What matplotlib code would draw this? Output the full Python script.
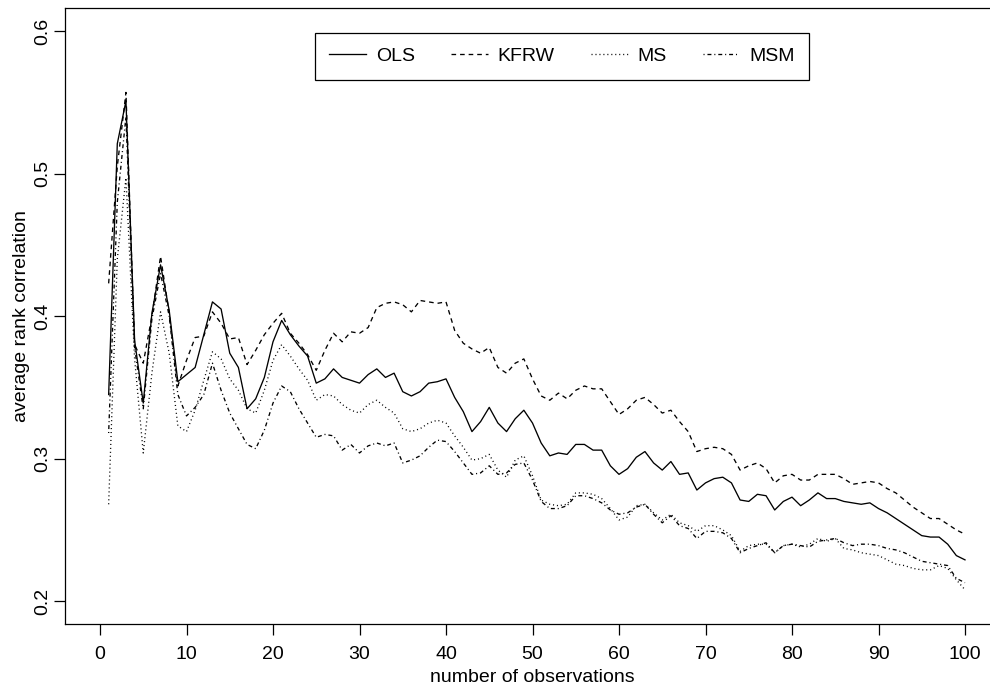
import numpy as np
import matplotlib
matplotlib.use('Agg')
import matplotlib.pyplot as plt

plt.rcParams['font.family'] = ['Liberation Sans', 'DejaVu Sans']

# average rank correlation per number of observations (1..100)
n_obs = np.arange(1, 101)

ols = [0.345, 0.521, 0.551, 0.383, 0.339, 0.402, 0.436, 0.404, 0.354, 0.359,
       0.364, 0.387, 0.410, 0.405, 0.374, 0.364, 0.335, 0.342, 0.357, 0.382,
       0.397, 0.387, 0.379, 0.372, 0.353, 0.356, 0.363, 0.357, 0.355, 0.353,
       0.359, 0.363, 0.357, 0.360, 0.347, 0.344, 0.347, 0.353, 0.354, 0.356,
       0.343, 0.333, 0.319, 0.326, 0.336, 0.325, 0.319, 0.328, 0.334, 0.325,
       0.311, 0.302, 0.304, 0.303, 0.310, 0.310, 0.306, 0.306, 0.295, 0.289,
       0.293, 0.301, 0.305, 0.297, 0.292, 0.298, 0.289, 0.290, 0.278, 0.283,
       0.286, 0.287, 0.283, 0.271, 0.270, 0.275, 0.274, 0.264, 0.270, 0.273,
       0.267, 0.271, 0.276, 0.272, 0.272, 0.270, 0.269, 0.268, 0.269, 0.265,
       0.262, 0.258, 0.254, 0.250, 0.246, 0.245, 0.245, 0.240, 0.232, 0.229]

kfrw = [0.423, 0.505, 0.557, 0.380, 0.367, 0.400, 0.442, 0.402, 0.351, 0.369,
        0.385, 0.386, 0.403, 0.395, 0.384, 0.385, 0.366, 0.376, 0.387, 0.395,
        0.402, 0.388, 0.381, 0.373, 0.362, 0.376, 0.388, 0.382, 0.389, 0.388,
        0.392, 0.406, 0.409, 0.410, 0.408, 0.403, 0.411, 0.410, 0.409, 0.410,
        0.390, 0.381, 0.377, 0.374, 0.378, 0.364, 0.360, 0.367, 0.370, 0.356,
        0.344, 0.341, 0.346, 0.342, 0.348, 0.351, 0.349, 0.349, 0.340, 0.331,
        0.335, 0.341, 0.343, 0.338, 0.332, 0.334, 0.326, 0.319, 0.305, 0.307,
        0.308, 0.307, 0.303, 0.292, 0.295, 0.297, 0.293, 0.283, 0.288, 0.289,
        0.285, 0.285, 0.289, 0.289, 0.289, 0.286, 0.282, 0.283, 0.284, 0.283,
        0.279, 0.276, 0.271, 0.266, 0.262, 0.258, 0.258, 0.254, 0.250, 0.247]

ms = [0.268, 0.440, 0.497, 0.370, 0.304, 0.360, 0.403, 0.374, 0.323, 0.319,
      0.334, 0.355, 0.375, 0.370, 0.356, 0.348, 0.335, 0.332, 0.348, 0.369,
      0.380, 0.372, 0.363, 0.355, 0.341, 0.345, 0.344, 0.338, 0.334, 0.332,
      0.338, 0.341, 0.336, 0.332, 0.321, 0.319, 0.321, 0.325, 0.327, 0.325,
      0.316, 0.308, 0.299, 0.300, 0.303, 0.292, 0.287, 0.299, 0.302, 0.288,
      0.271, 0.268, 0.267, 0.268, 0.276, 0.276, 0.275, 0.272, 0.265, 0.257,
      0.259, 0.267, 0.268, 0.262, 0.257, 0.261, 0.255, 0.253, 0.249, 0.253,
      0.253, 0.250, 0.246, 0.235, 0.239, 0.240, 0.240, 0.234, 0.239, 0.240,
      0.238, 0.240, 0.244, 0.242, 0.244, 0.237, 0.236, 0.234, 0.233, 0.232,
      0.229, 0.226, 0.225, 0.223, 0.222, 0.222, 0.225, 0.223, 0.215, 0.208]

msm = [0.318, 0.480, 0.540, 0.378, 0.335, 0.398, 0.430, 0.400, 0.345, 0.330,
       0.336, 0.345, 0.367, 0.348, 0.332, 0.321, 0.310, 0.307, 0.320, 0.339,
       0.351, 0.347, 0.335, 0.325, 0.315, 0.317, 0.316, 0.306, 0.310, 0.304,
       0.309, 0.311, 0.309, 0.311, 0.297, 0.299, 0.302, 0.308, 0.313, 0.312,
       0.305, 0.297, 0.289, 0.290, 0.295, 0.289, 0.290, 0.296, 0.297, 0.285,
       0.270, 0.265, 0.265, 0.267, 0.274, 0.274, 0.272, 0.269, 0.264, 0.261,
       0.262, 0.266, 0.268, 0.261, 0.255, 0.260, 0.253, 0.251, 0.244, 0.249,
       0.249, 0.248, 0.244, 0.234, 0.237, 0.239, 0.241, 0.234, 0.239, 0.240,
       0.239, 0.238, 0.242, 0.243, 0.244, 0.241, 0.239, 0.240, 0.240, 0.239,
       0.237, 0.236, 0.234, 0.231, 0.228, 0.227, 0.226, 0.225, 0.216, 0.213]

labels = ['OLS', 'KFRW', 'MS', 'MSM']
styles = ['-', (0, (3.5, 3.0)), (0, (0.8, 2.2)), (0, (0.8, 2.2, 3.0, 2.2))]
x_ticks = np.arange(0, 101, 10)
y_ticks = [0.2, 0.3, 0.4, 0.5, 0.6]

W, H = 990, 686
fig = plt.figure(figsize=(W / 100, H / 100), dpi=100)
# plot region in pixels (R style, 4% padding around xlim 0..100, ylim 0.2..0.6)
left, right, top, bottom = 65.4, 999.6, 8.3, 624.0
ax = fig.add_axes([left / W, (H - bottom) / H, (right - left) / W, (bottom - top) / H])

for series, lab, ls in zip([ols, kfrw, ms, msm], labels, styles):
    ax.plot(n_obs, series, color='black', linestyle=ls, linewidth=0.95, label=lab)

ax.set_xlim(-4, 104)
ax.set_ylim(0.184, 0.616)
ax.set_xticks(x_ticks)
ax.set_xticklabels([str(t) for t in x_ticks])
ax.set_yticks(y_ticks)
ax.set_yticklabels([f'{t:.1f}' for t in y_ticks], rotation=90, va='center')
ax.tick_params(axis='both', direction='out', length=8, width=0.9, labelsize=14,
               color='black')
ax.tick_params(axis='x', pad=8)
ax.tick_params(axis='y', pad=2)
for sp in ax.spines.values():
    sp.set_linewidth(0.9)
    sp.set_color('black')

ax.set_xlabel('number of observations', fontsize=14, labelpad=4)
ax.set_ylabel('average rank correlation', fontsize=14, labelpad=3)

leg = ax.legend(loc='upper center', bbox_to_anchor=(0.5316, 0.96), ncol=4,
                fontsize=14, frameon=True, fancybox=False, framealpha=1,
                edgecolor='black', handlelength=1.9, handletextpad=0.5,
                columnspacing=1.85, borderpad=0.75, borderaxespad=0)
leg.get_frame().set_linewidth(0.9)

fig.savefig('out.png', dpi=100)
